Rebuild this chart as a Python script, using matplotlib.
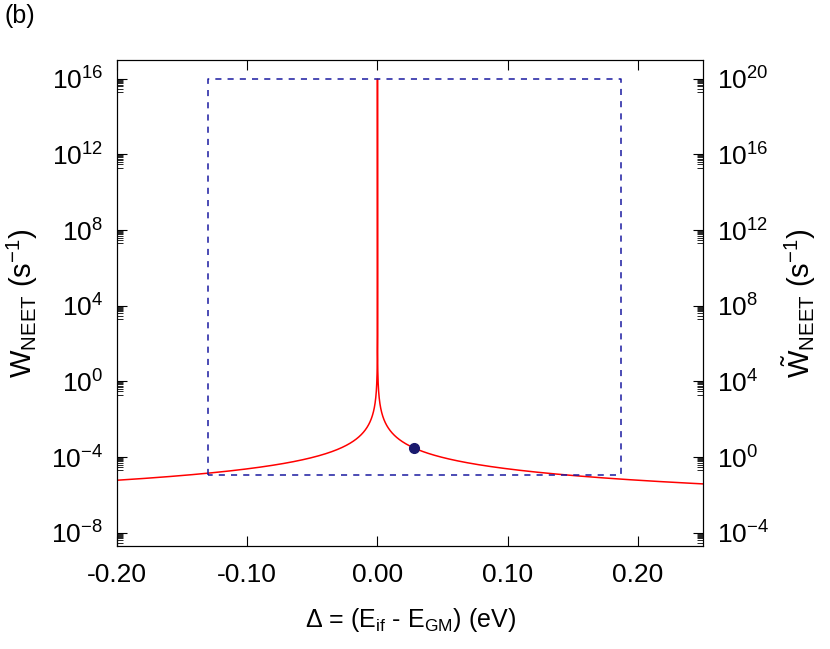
import matplotlib.pyplot as plt
import numpy as np

# Lorentzian NEET rate parameters
amp = 2.4e-7          # W * Delta^2 in the wings (s^-1 eV^2)
gamma = 5e-12         # half width (eV)
dot_x = [0.028]
rect_x = [-0.13, 0.187]
rect_y = [1.2e-5, 1e16]
x_ticks = [-0.20, -0.10, 0.00, 0.10, 0.20]
yl_ticks = [1e-8, 1e-4, 1e0, 1e4, 1e8, 1e12, 1e16]
yr_ticks = [1e-4, 1e0, 1e4, 1e8, 1e12, 1e16, 1e20]

plt.rcParams['font.family'] = 'Liberation Sans'

def rate(d):
    d = np.asarray(d)
    return amp / (d**2 + gamma**2)

delta = np.concatenate([-np.logspace(np.log10(0.2), -13, 2000), [0.0],
                        np.logspace(-13, np.log10(0.25), 2000)])

def lab(t):
    return f'$\\mathregular{{10^{{{int(np.log10(t))}}}}}$'

fig = plt.figure(figsize=(8.3, 6.49), dpi=100)
ax = fig.add_axes([0.141, 0.1587, 0.706, 0.749])
ax.plot(delta, rate(delta), color='red', lw=1.1)
ax.plot(dot_x, rate(dot_x), 'o', color='#1a1a6e', mec='#1a1a6e', ms=7)
ax.plot([rect_x[0], rect_x[0], rect_x[1], rect_x[1], rect_x[0]],
        [rect_y[0], rect_y[1], rect_y[1], rect_y[0], rect_y[0]],
        ls=(0, (4, 4)), color='#1a1aa0', lw=1.1)

ax.set_yscale('log')
ax.set_xlim(-0.2, 0.25)
ax.set_ylim(1e-8, 1e17)
ax.set_xticks(x_ticks)
ax.set_xticklabels([f'{t:.2f}' for t in x_ticks])
ax.set_yticks(yl_ticks)
ax.set_yticks([k * t / 10 for t in yl_ticks for k in range(2, 10)], minor=True)
ax.set_yticklabels([lab(t) for t in yl_ticks])
ax.tick_params(axis='both', which='major', direction='in', length=7, labelsize=19, top=True)
ax.tick_params(axis='y', which='minor', direction='in', length=4, labelleft=False)
ax.tick_params(axis='y', pad=10)
ax.tick_params(axis='x', pad=12)
ax.set_xlabel(r'$\mathregular{\Delta}$ = (E$\mathregular{_{if}}$ - E$\mathregular{_{GM}}$) (eV)',
              fontsize=18, labelpad=14)
ax.set_ylabel(r'W$\mathregular{_{NEET}}$ (s$\mathregular{^{-1}}$)', fontsize=21, labelpad=8)

ax2 = ax.twinx()
ax2.set_yscale('log')
ax2.set_ylim(1e-4, 1e21)
ax2.set_yticks(yr_ticks)
ax2.set_yticks([k * t / 10 for t in yr_ticks for k in range(2, 10)], minor=True)
ax2.set_yticklabels([lab(t) for t in yr_ticks])
ax2.tick_params(axis='y', which='major', direction='in', length=7, labelsize=19, pad=10)
ax2.tick_params(axis='y', which='minor', direction='in', length=4, labelright=False)
ax2.set_ylabel(r'$\mathregular{\tilde{W}_{NEET}}$ (s$\mathregular{^{-1}}$)', fontsize=21, labelpad=8)

fig.text(0.005, 0.965, '(b)', fontsize=18)
fig.savefig('out.png', dpi=100)
